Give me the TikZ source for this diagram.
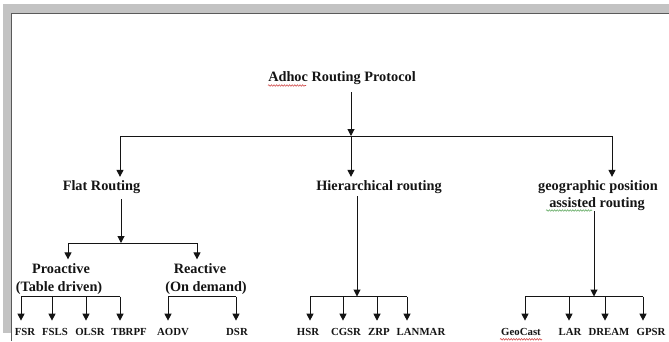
\documentclass[tikz,border=0pt]{standalone}
\usepackage{fontspec}
\setmainfont{Liberation Serif}
\usetikzlibrary{arrows.meta,decorations.pathmorphing}
\definecolor{ink}{HTML}{141414}
\definecolor{framegray}{HTML}{C3C3C3}
\definecolor{frameline}{HTML}{5A5A5A}
\definecolor{spellred}{HTML}{D04848}
\definecolor{spellgreen}{HTML}{5FA85F}
\begin{document}
\begin{tikzpicture}[x=1pt,y=-1pt,
  lbl/.style={anchor=base,inner xsep=0pt,inner ysep=3pt,font=\fontsize{14.3}{17}\selectfont\bfseries,text=ink},
  leaf/.style={anchor=base,inner xsep=0pt,inner ysep=7pt,font=\fontsize{10.8}{12}\selectfont\bfseries,text=ink},
  conn/.style={draw=ink,line width=1pt},
  arr/.style={conn,-{Triangle[width=7pt,length=7pt]}},
  spell/.style={decorate,decoration={snake,amplitude=0.8pt,segment length=2.6pt},line width=0.55pt}]
\useasboundingbox (0,0) rectangle (669,341);
% frame of the screenshot
\fill[framegray] (3,4) rectangle (669,13);
\fill[framegray] (3,4) rectangle (11,333);
\draw[frameline,line width=1.3pt] (11.6,341) -- (11.6,13.6) -- (669,13.6);

% labels
\node[lbl] (title) at (342,81) {Adhoc Routing Protocol};
\node[lbl] (flat) at (101.5,190) {Flat Routing};
\node[lbl] (hier) at (379,190) {Hierarchical routing};
\node[lbl] (geoA) at (598,190) {geographic position};
\node[lbl] (geoB) at (597,207) {assisted routing};
\node[lbl,inner ysep=3.5pt] (pro1) at (61,273) {Proactive};
\node[lbl] (pro2) at (59,291) {(Table driven)};
\node[lbl,inner ysep=3.5pt] (rea1) at (200,273) {Reactive};
\node[lbl] (rea2) at (206,291) {(On demand)};

\node[leaf] (fsr) at (25,335) {FSR};
\node[leaf] (fsls) at (55,335) {FSLS};
\node[leaf] (olsr) at (90,335) {OLSR};
\node[leaf] (tbrpf) at (129,335) {TBRPF};
\node[leaf] (aodv) at (173,335) {AODV};
\node[leaf] (dsr) at (237,335) {DSR};
\node[leaf] (hsr) at (308,335) {HSR};
\node[leaf] (cgsr) at (346,335) {CGSR};
\node[leaf] (zrp) at (379,335) {ZRP};
\node[leaf] (lanmar) at (421,335) {LANMAR};
\node[leaf] (geocast) at (521,335) {GeoCast};
\node[leaf] (lar) at (570,335) {LAR};
\node[leaf] (dream) at (609,335) {DREAM};
\node[leaf] (gpsr) at (651,335) {GPSR};

% spell-check marks
\draw[spell,spellred] (268,85.5) -- (306,85.5);
\draw[spell,spellgreen] (546,210.5) -- (592,210.5);
\draw[spell,spellred] (500,339.3) -- (542,339.3);

% top level
\coordinate (t0) at (351,92);
\coordinate (j0) at (351,136);
\coordinate (bL) at (120,136);
\coordinate (bR) at (612,136);
\draw[arr] (t0) -- (j0);
\draw[conn] (bL) -- (bR);
\draw[arr] (bL) -- (bL |- flat.north);
\draw[arr] (j0) -- (j0 |- hier.north);
\draw[arr] (bR) -- (bR |- geoA.north);

% flat routing
\coordinate (f0) at (121,199);
\coordinate (f1) at (121,243);
\coordinate (fL) at (68,243);
\coordinate (fR) at (197,243);
\draw[arr] (f0) -- (f1);
\draw[conn] (fL) -- (fR);
\draw[arr] (fL) -- (fL |- pro1.north);
\draw[arr] (fR) -- (fR |- rea1.north);

% proactive
\coordinate (p1) at (21,296.5);
\coordinate (p2) at (52,296.5);
\coordinate (p3) at (86,296.5);
\coordinate (p4) at (120,296.5);
\draw[conn] (p1) -- (p4);
\draw[arr] (p1) -- (p1 |- fsr.north);
\draw[arr] (p2) -- (p2 |- fsls.north);
\draw[arr] (p3) -- (p3 |- olsr.north);
\draw[arr] (p4) -- (p4 |- tbrpf.north);

% reactive
\coordinate (r1) at (168,296.5);
\coordinate (r2) at (236,296.5);
\draw[conn] (r1) -- (r2);
\draw[arr] (r1) -- (r1 |- aodv.north);
\draw[arr] (r2) -- (r2 |- dsr.north);

% hierarchical
\coordinate (h0) at (357,196);
\coordinate (h1) at (357,296.5);
\coordinate (h2) at (310,296.5);
\coordinate (h3) at (343,296.5);
\coordinate (h4) at (377,296.5);
\coordinate (h5) at (407,296.5);
\draw[arr] (h0) -- (h1);
\draw[conn] (h2) -- (h5);
\draw[arr] (h2) -- (h2 |- hsr.north);
\draw[arr] (h3) -- (h3 |- cgsr.north);
\draw[arr] (h4) -- (h4 |- zrp.north);
\draw[arr] (h5) -- (h5 |- lanmar.north);

% geographic
\coordinate (g0) at (594,211);
\coordinate (g1) at (594,296.5);
\coordinate (g2) at (525,296.5);
\coordinate (g3) at (569,296.5);
\coordinate (g4) at (605,296.5);
\coordinate (g5) at (643,296.5);
\draw[arr] (g0) -- (g1);
\draw[conn] (g2) -- (g5);
\draw[arr] (g2) -- (g2 |- geocast.north);
\draw[arr] (g3) -- (g3 |- lar.north);
\draw[arr] (g4) -- (g4 |- dream.north);
\draw[arr] (g5) -- (g5 |- gpsr.north);
\end{tikzpicture}
\end{document}
